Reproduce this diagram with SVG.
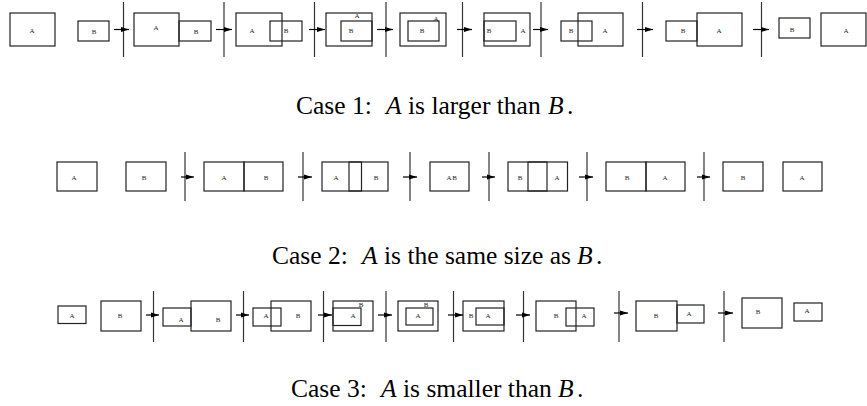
<svg xmlns="http://www.w3.org/2000/svg" width="867" height="406" viewBox="0 0 867 406">
<defs>
<marker id="ah" markerUnits="userSpaceOnUse" markerWidth="8" markerHeight="6" refX="8" refY="3" orient="auto">
<path d="M0,0.5 L8,3 L0,5.5 z" fill="#000"/>
</marker>
<style>
rect{fill:none;stroke:#222;stroke-width:1.2}
.lb{font-family:"Liberation Serif",serif;font-size:7px;fill:#222;text-anchor:middle}
.cap{font-family:"Liberation Serif",serif;font-size:25.5px;fill:#000}
.v{stroke:#333;stroke-width:1.2}
.ar{stroke:#000;stroke-width:1.2;marker-end:url(#ah)}
</style>
</defs>
<rect x="0" y="0" width="867" height="406" style="fill:#fff;stroke:none"/>

<g id="row1">
<g id="r1p0"><rect x="10" y="13" width="45" height="33"/><text class="lb" x="32" y="33">A</text><rect x="78" y="21" width="31" height="20"/><text class="lb" x="94" y="34">B</text></g>
<g id="r1p1"><rect x="134" y="13" width="45" height="33"/><text class="lb" x="156" y="30">A</text><rect x="179" y="21" width="32" height="20"/><text class="lb" x="196" y="34">B</text></g>
<g id="r1p2"><rect x="236" y="13" width="46" height="33"/><text class="lb" x="252" y="33">A</text><rect x="270" y="21" width="32" height="20"/><text class="lb" x="286" y="33">B</text></g>
<g id="r1p3"><rect x="326" y="13" width="46" height="33"/><text class="lb" x="357" y="18">A</text><rect x="341" y="21" width="31" height="20"/><text class="lb" x="351" y="33">B</text></g>
<g id="r1p4"><rect x="400" y="13" width="46" height="33"/><text class="lb" x="436" y="21">A</text><rect x="408" y="21" width="31" height="20"/><text class="lb" x="422" y="33">B</text></g>
<g id="r1p5"><rect x="484" y="13" width="46" height="33"/><text class="lb" x="523" y="33">A</text><rect x="484" y="21" width="32" height="20"/><text class="lb" x="489" y="33">B</text></g>
<g id="r1p6"><rect x="561" y="21" width="31" height="20"/><text class="lb" x="571" y="33">B</text><rect x="578" y="13" width="45" height="33"/><text class="lb" x="605" y="33">A</text></g>
<g id="r1p7"><rect x="666" y="21" width="31" height="20"/><text class="lb" x="683" y="33">B</text><rect x="697" y="13" width="45" height="33"/><text class="lb" x="719" y="33">A</text></g>
<g id="r1p8"><rect x="779" y="18" width="31" height="20"/><text class="lb" x="792" y="32">B</text><rect x="821" y="13" width="45" height="33"/><text class="lb" x="846" y="33">A</text></g>
</g>

<g id="row2">
<g id="r2p0"><rect x="57" y="162" width="40" height="29"/><text class="lb" x="74" y="179.5">A</text><rect x="126" y="162" width="40" height="29"/><text class="lb" x="144" y="179.5">B</text></g>
<g id="r2p1"><rect x="204" y="162" width="40" height="29"/><text class="lb" x="224" y="179.5">A</text><rect x="244" y="162" width="39" height="29"/><text class="lb" x="266" y="179.5">B</text></g>
<g id="r2p2"><rect x="322" y="162" width="39.5" height="29"/><text class="lb" x="336" y="179.5">A</text><rect x="349" y="162" width="39" height="29"/><text class="lb" x="376" y="179.5">B</text></g>
<g id="r2p3"><rect x="430" y="162" width="39" height="29"/><text class="lb" x="449" y="179.5">A</text><text class="lb" x="454.5" y="179.5">B</text></g>
<g id="r2p4"><rect x="508" y="162" width="39" height="29"/><text class="lb" x="520" y="179.5">B</text><rect x="528" y="162" width="39.5" height="29"/><text class="lb" x="557" y="179.5">A</text></g>
<g id="r2p5"><rect x="606" y="162" width="40" height="29"/><text class="lb" x="627" y="179.5">B</text><rect x="646" y="162" width="39" height="29"/><text class="lb" x="665" y="179.5">A</text></g>
<g id="r2p6"><rect x="723" y="162" width="40" height="29"/><text class="lb" x="743" y="179.5">B</text><rect x="783" y="162" width="39" height="29"/><text class="lb" x="802" y="179.5">A</text></g>
</g>

<g id="row3">
<g id="r3p0"><rect x="58" y="306" width="28" height="17.5"/><text class="lb" x="72" y="318">A</text><rect x="101" y="301" width="40" height="30"/><text class="lb" x="120" y="317.5">B</text></g>
<g id="r3p1"><rect x="163" y="308" width="28" height="18"/><text class="lb" x="181" y="321.5">A</text><rect x="191" y="301" width="40" height="30"/><text class="lb" x="218" y="321.5">B</text></g>
<g id="r3p2"><rect x="253" y="308" width="28" height="18"/><text class="lb" x="266" y="317.5">A</text><rect x="271" y="301" width="40" height="30"/><text class="lb" x="298" y="317.5">B</text></g>
<g id="r3p3"><rect x="333" y="301" width="40" height="30"/><text class="lb" x="361" y="306.5">B</text><rect x="333" y="308" width="28" height="17.5"/><text class="lb" x="353" y="317.5">A</text></g>
<g id="r3p4"><rect x="398" y="301" width="40" height="30"/><text class="lb" x="426" y="306.5">B</text><rect x="406" y="308" width="27" height="17"/><text class="lb" x="418" y="317.5">A</text></g>
<g id="r3p5"><rect x="463" y="301" width="41" height="30"/><text class="lb" x="471" y="317.5">B</text><rect x="476" y="308" width="28" height="17"/><text class="lb" x="488" y="317.5">A</text></g>
<g id="r3p6"><rect x="536" y="301" width="40" height="30"/><text class="lb" x="556" y="317.5">B</text><rect x="566" y="308" width="28" height="18"/><text class="lb" x="584" y="317.5">A</text></g>
<g id="r3p7"><rect x="636" y="301" width="41" height="30"/><text class="lb" x="656" y="317.5">B</text><rect x="677" y="305" width="27" height="18"/><text class="lb" x="689" y="315.5">A</text></g>
<g id="r3p8"><rect x="742" y="298" width="40" height="30"/><text class="lb" x="758" y="314">B</text><rect x="794" y="303" width="28" height="18"/><text class="lb" x="807" y="313">A</text></g>
</g>

<g id="connectors">
<line class="v" x1="123.5" y1="2" x2="123.5" y2="57"/><line class="ar" x1="114" y1="29.5" x2="129" y2="29.5"/>
<line class="v" x1="224" y1="2" x2="224" y2="57"/><line class="ar" x1="216" y1="29.5" x2="232" y2="29.5"/>
<line class="v" x1="314.5" y1="2" x2="314.5" y2="57"/><line class="ar" x1="309" y1="29.5" x2="325" y2="29.5"/>
<line class="v" x1="386" y1="2" x2="386" y2="57"/><line class="ar" x1="377" y1="29.5" x2="393" y2="29.5"/>
<line class="v" x1="462.5" y1="2" x2="462.5" y2="57"/><line class="ar" x1="457" y1="29.5" x2="472" y2="29.5"/>
<line class="v" x1="541" y1="2" x2="541" y2="57"/><line class="ar" x1="533" y1="29.5" x2="548" y2="29.5"/>
<line class="v" x1="642.5" y1="2" x2="642.5" y2="57"/><line class="ar" x1="637" y1="29.5" x2="653" y2="29.5"/>
<line class="v" x1="761.5" y1="2" x2="761.5" y2="57"/><line class="ar" x1="753" y1="29.5" x2="769" y2="29.5"/>

<line class="v" x1="185" y1="152" x2="185" y2="201"/><line class="ar" x1="181" y1="177" x2="194" y2="177"/>
<line class="v" x1="303" y1="152" x2="303" y2="201"/><line class="ar" x1="298" y1="177" x2="312" y2="177"/>
<line class="v" x1="410" y1="152" x2="410" y2="201"/><line class="ar" x1="403" y1="177" x2="417" y2="177"/>
<line class="v" x1="489" y1="152" x2="489" y2="201"/><line class="ar" x1="482" y1="177" x2="495" y2="177"/>
<line class="v" x1="587" y1="152" x2="587" y2="201"/><line class="ar" x1="579" y1="177" x2="593" y2="177"/>
<line class="v" x1="704" y1="152" x2="704" y2="201"/><line class="ar" x1="697" y1="177" x2="710" y2="177"/>

<line class="v" x1="153.5" y1="291" x2="153.5" y2="342"/><line class="ar" x1="146" y1="315" x2="159" y2="315"/>
<line class="v" x1="243.5" y1="291" x2="243.5" y2="342"/><line class="ar" x1="236" y1="315" x2="249" y2="315"/>
<line class="v" x1="323.5" y1="291" x2="323.5" y2="342"/><line class="ar" x1="318" y1="315" x2="332" y2="315"/>
<line class="v" x1="386" y1="291" x2="386" y2="342"/><line class="ar" x1="378" y1="315" x2="392" y2="315"/>
<line class="v" x1="453.5" y1="291" x2="453.5" y2="342"/><line class="ar" x1="448" y1="315" x2="463" y2="315"/>
<line class="v" x1="523.5" y1="291" x2="523.5" y2="342"/><line class="ar" x1="516" y1="315" x2="530" y2="315"/>
<line class="v" x1="619" y1="291" x2="619" y2="342"/><line class="ar" x1="614" y1="313" x2="628" y2="313"/>
<line class="v" x1="724" y1="291" x2="724" y2="342"/><line class="ar" x1="718" y1="313" x2="733" y2="313"/>
</g>

<g id="captions">
<text class="cap" y="114"><tspan x="296">Case 1:</tspan><tspan x="386" font-style="italic">A</tspan><tspan x="408">is larger than</tspan><tspan x="548" font-style="italic">B</tspan><tspan x="567">.</tspan></text>
<text class="cap" y="264"><tspan x="272">Case 2:</tspan><tspan x="362" font-style="italic">A</tspan><tspan x="384">is the same size as</tspan><tspan x="577" font-style="italic">B</tspan><tspan x="596">.</tspan></text>
<text class="cap" y="397"><tspan x="291">Case 3:</tspan><tspan x="381" font-style="italic">A</tspan><tspan x="403">is smaller than</tspan><tspan x="558" font-style="italic">B</tspan><tspan x="577">.</tspan></text>
</g>
</svg>
